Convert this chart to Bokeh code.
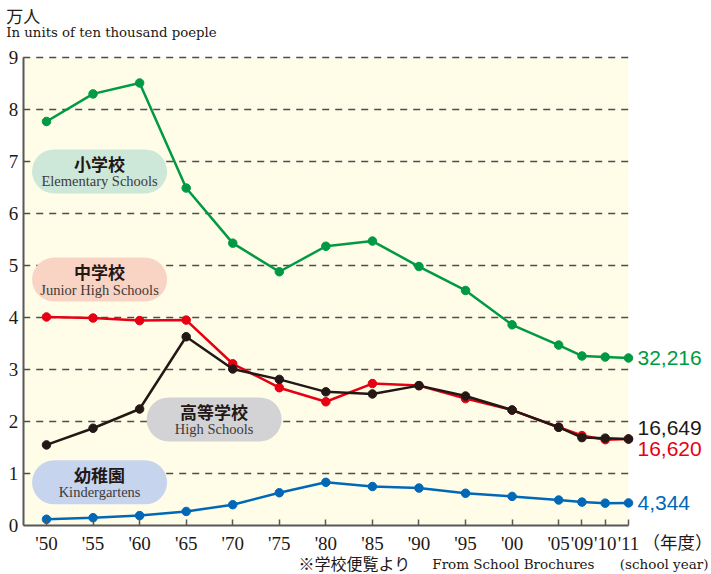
from bokeh.plotting import figure
from bokeh.models import FixedTicker, BoxAnnotation, Label, ColumnDataSource
from bokeh.embed import file_html
from bokeh.resources import INLINE

# ---- data (units: 10,000 people) ----
years = ["'50", "'55", "'60", "'65", "'70", "'75", "'80", "'85", "'90", "'95",
         "'00", "'05", "'09", "'10", "'11"]
elementary = [7.77, 8.30, 8.51, 6.49, 5.43, 4.88, 5.37, 5.47, 4.98, 4.52,
              3.86, 3.47, 3.26, 3.24, 3.2216]
junior = [4.01, 3.99, 3.94, 3.95, 3.11, 2.65, 2.38, 2.73, 2.69, 2.44,
          2.22, 1.89, 1.73, 1.65, 1.6620]
high = [1.55, 1.87, 2.24, 3.63, 3.01, 2.81, 2.57, 2.53, 2.69, 2.49,
        2.22, 1.89, 1.69, 1.68, 1.6649]
kinder = [0.12, 0.15, 0.19, 0.27, 0.40, 0.63, 0.83, 0.75, 0.72, 0.62,
          0.56, 0.49, 0.45, 0.43, 0.4344]
end_labels = {"elementary": "32,216", "high": "16,649", "junior": "16,620", "kinder": "4,344"}
y_ticks = [0, 1, 2, 3, 4, 5, 6, 7, 8, 9]

# axis layout: 5-year steps take two slots, the last yearly steps one slot
slots = [0, 2, 4, 6, 8, 10, 12, 14, 16, 18, 20, 22, 23, 24, 25]

GREEN = "#009944"
RED = "#e60012"
BLACK = "#231815"
BLUE = "#0068b7"
TXT = "#231815"
AXIS = "#595757"

W, H = 711, 574
PX = 23.28   # px per slot
PY = 52.0    # px per unit
X0_PX, Y0_PX = 46.0, 525.0   # where slot 0 / value 0 sit on the canvas
x_lo = -X0_PX / PX
x_hi = (W - X0_PX) / PX
y_lo = -(H - Y0_PX) / PY
y_hi = Y0_PX / PY

p = figure(width=W, height=H, x_range=(x_lo, x_hi), y_range=(y_lo, y_hi),
           output_backend="svg", toolbar_location=None, min_border=0,
           min_border_left=0, min_border_right=0, min_border_top=0, min_border_bottom=0,
           background_fill_color="white", border_fill_color="white",
           outline_line_color=None)
p.xgrid.visible = False
p.ygrid.visible = False

x_left = -1
x_right = slots[-1]

# pale yellow plotting area
p.add_layout(BoxAnnotation(left=x_left, right=x_right, bottom=y_ticks[0], top=y_ticks[-1],
                           fill_color="#fffde8", fill_alpha=1, line_color=None, level="image"))

# dashed grid lines
grid_y = y_ticks[1:]
p.segment(x0=[x_left] * len(grid_y), x1=[x_right] * len(grid_y), y0=grid_y, y1=grid_y,
          line_color="#4d4d4d", line_width=1.3, line_dash="7 6", level="underlay")

# axes (drawn at fixed data locations)
xa = p.xaxis[0]
xa.fixed_location = 0
xa.ticker = FixedTicker(ticks=slots)
xa.major_label_overrides = {s: y for s, y in zip(slots, years)}
xa.bounds = (x_left, x_right)
xa.major_tick_in = 6
xa.major_tick_out = 0
xa.major_tick_line_color = AXIS
xa.major_tick_line_width = 1.5
xa.axis_line_color = AXIS
xa.axis_line_width = 2
xa.major_label_standoff = 7
xa.major_label_text_font = "Liberation Serif"
xa.major_label_text_font_size = "19px"
xa.major_label_text_color = TXT

ya = p.yaxis[0]
ya.fixed_location = x_left
ya.ticker = FixedTicker(ticks=y_ticks)
ya.bounds = (y_ticks[0], y_ticks[-1])
ya.major_tick_in = 0
ya.major_tick_out = 0
ya.axis_line_color = AXIS
ya.axis_line_width = 2
ya.major_label_standoff = 5
ya.major_label_text_font = "Liberation Serif"
ya.major_label_text_font_size = "19px"
ya.major_label_text_color = TXT

# legend pills (drawn beneath the lines)
pills = [
    ("小学校", "Elementary Schools", "#cde7d9", 2.28, 6.81),
    ("中学校", "Junior High Schools", "#f9d3c3", 2.28, 4.73),
    ("高等学校", "High Schools", "#d3d3d5", 7.20, 2.04),
    ("幼稚園", "Kindergartens", "#c6d4ee", 2.28, 0.83),
]
hw = 67.5 / PX
hh = 22.0 / PY
for jp, en, col, cx, cy in pills:
    p.add_layout(BoxAnnotation(left=cx - hw, right=cx + hw, bottom=cy - hh, top=cy + hh,
                               fill_color=col, fill_alpha=1, line_color=None,
                               border_radius=22, level="glyph"))

series = [
    (kinder, BLUE),
    (elementary, GREEN),
    (junior, RED),
    (high, BLACK),
]
for vals, col in series:
    src = ColumnDataSource(dict(x=slots, y=vals))
    p.line("x", "y", source=src, line_color=col, line_width=2.5)
    p.scatter("x", "y", source=src, size=8.5, fill_color=col, line_color=col)

for jp, en, col, cx, cy in pills:
    p.add_layout(Label(x=cx, y=cy, y_offset=8, text=jp, text_align="center",
                       text_baseline="middle", text_font="Noto Sans CJK JP",
                       text_font_style="bold", text_font_size="17px", text_color=TXT))
    p.add_layout(Label(x=cx, y=cy, y_offset=-10, text=en, text_align="center",
                       text_baseline="middle", text_font="Liberation Serif",
                       text_font_size="14.5px", text_color="#3e3a39"))

# end-value labels
end_specs = [("elementary", elementary, GREEN, 0), ("high", high, BLACK, 11),
             ("junior", junior, RED, -10), ("kinder", kinder, BLUE, 0)]
for key, vals, col, dy in end_specs:
    p.add_layout(Label(x=slots[-1], y=vals[-1], x_offset=9, y_offset=dy,
                       text=end_labels[key], text_align="left", text_baseline="middle",
                       text_font="Liberation Sans", text_font_size="21px", text_color=col))

# titles and notes
p.add_layout(Label(x=x_left, y=y_ticks[-1], x_offset=-17, y_offset=42, text="万人",
                   text_align="left", text_baseline="middle", text_font="Noto Sans CJK JP",
                   text_font_size="17px", text_color=TXT))
p.add_layout(Label(x=x_left, y=y_ticks[-1], x_offset=-17, y_offset=25,
                   text="In units of ten thousand poeple", text_align="left",
                   text_baseline="middle", text_font="DejaVu Serif",
                   text_font_size="13.3px", text_color=TXT))
p.add_layout(Label(x=slots[-1], y=0, x_offset=14, y_offset=-16, text="（年度）",
                   text_align="left", text_baseline="middle", text_font="Noto Sans CJK JP",
                   text_font_size="17.5px", text_color=TXT))
p.add_layout(Label(x=slots[-1], y=0, x_offset=80, y_offset=-38, text="(school year)",
                   text_align="right", text_baseline="middle", text_font="DejaVu Serif",
                   text_font_size="13.5px", text_color=TXT))
p.add_layout(Label(x=slots[-1], y=0, x_offset=-34, y_offset=-38, text="From School Brochures",
                   text_align="right", text_baseline="middle", text_font="DejaVu Serif",
                   text_font_size="13.5px", text_color=TXT))
p.add_layout(Label(x=slots[-1], y=0, x_offset=-218, y_offset=-37, text="※学校便覧より",
                   text_align="right", text_baseline="middle", text_font="Noto Sans CJK JP",
                   text_font_size="16px", text_color=TXT))

open("out.html", "w").write(file_html(p, INLINE))
